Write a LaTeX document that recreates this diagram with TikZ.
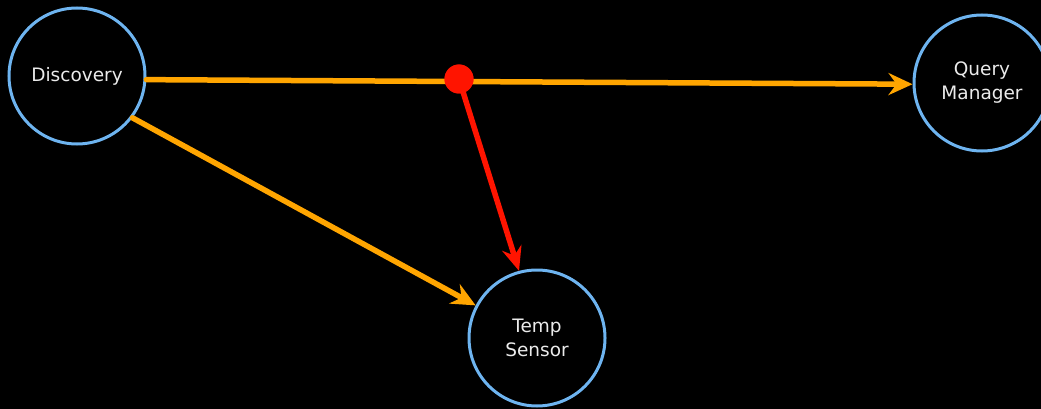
\documentclass[tikz,border=0pt]{standalone}
\usepackage{fontspec}
\setmainfont{DejaVu Sans}
\usetikzlibrary{arrows.meta}
\definecolor{bgc}{RGB}{0,0,0}
\definecolor{ringc}{RGB}{110,180,240}
\definecolor{edgeo}{RGB}{255,165,0}
\definecolor{edger}{RGB}{255,20,0}
\definecolor{txtc}{RGB}{235,235,235}
\begin{document}
\begin{tikzpicture}[x=1pt,y=-1pt,
  agent/.style={circle,draw=ringc,line width=3pt,minimum size=136pt,inner sep=0pt,
    text=txtc,align=center,font=\fontsize{18.5}{24}\selectfont},
  oedge/.style={draw=edgeo,line width=5.5pt,-{Stealth[length=24pt,width=22pt,inset=8pt]}},
  redge/.style={draw=edger,line width=5.5pt,-{Stealth[length=24pt,width=20pt,inset=8pt]}},
  reddot/.style={circle,fill=edger,minimum size=29pt,inner sep=0pt}]
\fill[bgc] (0,0) rectangle (1041,409);
\useasboundingbox (0,0) rectangle (1041,409);
\node[agent] (disc) at (77,76) {Discovery};
\node[agent] (qm) at (982,83) {\raisebox{-2pt}{Query}\\\raisebox{-2pt}{Manager}};
\node[agent] (ts) at (537,338) {Temp\\Sensor};
\draw[oedge,line cap=round] (disc.-3.3) -- (qm.181.6);
\draw[oedge,line cap=round] (disc.-37) -- (ts.152.5);
\node[reddot] (dot) at (459,79) {};
\draw[redge] (dot.center) -- (ts.105);
\node[reddot] at (dot) {};
\end{tikzpicture}
\end{document}
